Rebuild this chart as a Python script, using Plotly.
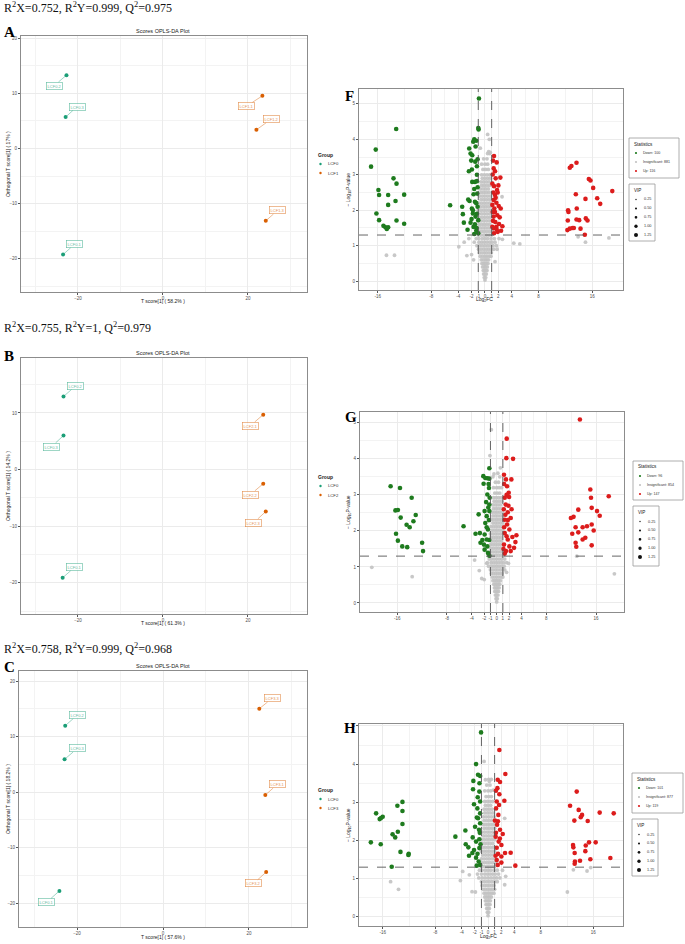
import plotly.graph_objects as go

W, H = 685, 944

# ===================== DATA =====================
# OPLS-DA scores: t[1] (x) and orthogonal t[1] (y)
A_samples = ["LCF0.1", "LCF0.2", "LCF0.3", "LCF1.1", "LCF1.2", "LCF1.3"]
A_t = [-23.5, -22.7, -22.9, 23.4, 22.0, 24.2]
A_to = [-19.2, 13.3, 5.7, 9.55, 3.4, -13.1]

B_samples = ["LCF0.1", "LCF0.2", "LCF0.3", "LCF2.1", "LCF2.2", "LCF2.3"]
B_t = [-23.6, -23.4, -23.4, 23.6, 23.6, 24.2]
B_to = [-19.1, 12.9, 6.0, 9.7, -2.5, -7.4]

C_samples = ["LCF0.1", "LCF0.2", "LCF0.3", "LCF3.1", "LCF3.2", "LCF3.3"]
C_t = [-24.1, -22.75, -22.9, 23.8, 24.0, 22.4]
C_to = [-17.8, 11.95, 5.9, -0.54, -14.4, 15.0]

A_groups = ["LCF0", "LCF1"]
B_groups = ["LCF0", "LCF2"]
C_groups = ["LCF0", "LCF3"]

A_stats = ["R<sup>2</sup>X=0.752, R<sup>2</sup>Y=0.999, Q<sup>2</sup>=0.975"]
B_stats = ["R<sup>2</sup>X=0.755, R<sup>2</sup>Y=1, Q<sup>2</sup>=0.979"]
C_stats = ["R<sup>2</sup>X=0.758, R<sup>2</sup>Y=0.999, Q<sup>2</sup>=0.968"]
A_var = ["58.2%", "17%"]
B_var = ["61.3%", "14.2%"]
C_var = ["57.6%", "18.2%"]

# Volcano: (log2FC, -log10 P)
F_down = [(-13.25, 4.29), (-16.3, 3.71), (-17.0, 3.23), (-13.65, 2.90), (-13.2, 2.75), (-15.9, 2.57),
          (-15.8, 2.43), (-14.45, 2.43), (-12.06, 2.44), (-13.35, 2.26), (-14.45, 2.15), (-16.2, 1.91),
          (-15.8, 1.72), (-13.2, 1.71), (-12.06, 1.62), (-15.15, 1.56), (-14.85, 1.52), (-14.65, 1.47),
          (-14.45, 1.52),
          (-0.9, 5.15), (-0.95, 4.28), (-1.0, 4.32), (-1.75, 3.93), (-1.3, 3.96), (-2.35, 3.74),
          (-2.15, 3.60), (-2.05, 3.40), (-1.45, 3.37), (-1.1, 3.44), (-1.95, 3.15), (-1.2, 3.24),
          (-1.9, 2.80), (-1.5, 2.80), (-1.2, 2.82), (-1.7, 2.45), (-1.15, 2.47), (-2.3, 2.26),
          (-1.5, 2.24), (-5.2, 2.14), (-3.4, 2.10), (-1.95, 2.05), (-1.1, 2.10), (-3.3, 1.89),
          (-1.8, 1.91), (-1.4, 1.82), (-3.15, 1.65), (-2.15, 1.65), (-1.0, 1.72), (-1.7, 1.53),
          (-1.3, 1.42), (-1.6, 1.33), (-1.0, 1.35), (-1.2, 3.0), (-1.6, 2.6), (-1.3, 2.2), (-1.8, 2.0),
          (-1.2, 1.9), (-2.0, 1.75), (-1.5, 1.6), (-2.5, 2.3), (-1.1, 2.65), (-1.9, 3.55), (-1.4, 3.8),
          (-2.6, 1.45), (-1.25, 1.5), (-2.4, 3.1), (-1.6, 4.0)]
F_up = [(1.35, 3.53), (1.75, 3.35), (1.3, 3.18), (1.15, 3.01), (1.6, 2.90), (2.3, 2.92), (1.35, 2.68),
        (1.8, 2.57), (1.5, 2.43), (1.3, 2.29), (1.7, 2.21), (2.05, 2.12), (2.35, 2.05), (1.4, 2.05),
        (1.85, 1.86), (1.3, 1.82), (1.55, 1.67), (2.1, 1.61), (2.6, 1.55), (1.7, 1.53), (1.3, 1.49),
        (1.9, 1.39), (1.35, 1.35), (1.1, 1.53), (1.2, 3.4), (1.5, 3.1), (1.1, 2.75), (2.0, 2.7),
        (1.25, 2.5), (1.6, 2.35), (1.1, 2.15), (1.5, 1.95), (2.2, 1.8), (1.2, 1.7), (1.75, 1.45),
        (2.4, 1.42), (1.15, 1.95), (1.9, 2.5),
        (12.66, 3.20), (12.9, 3.25), (13.66, 3.34), (15.5, 2.88), (15.75, 2.84), (16.15, 2.63),
        (19.0, 2.54), (13.56, 2.45), (16.75, 2.34), (15.0, 2.32), (17.2, 2.18), (12.4, 2.0),
        (12.46, 1.95), (13.7, 2.05), (12.36, 1.71), (13.66, 1.74), (14.06, 1.72), (15.05, 1.77),
        (15.3, 1.71), (12.3, 1.44), (12.66, 1.48), (13.06, 1.50), (13.26, 1.50), (14.26, 1.48),
        (14.9, 1.31)]
F_ns_extra = [(-14.7, 0.73), (-13.5, 0.73), (13.9, 1.25), (15.0, 1.1), (18.5, 1.22), (-3.9, 0.97),
              (-3.1, 1.1), (-2.7, 0.72), (-2.0, 0.75), (4.3, 1.07), (5.2, 1.05), (-2.4, 1.2),
              (2.6, 1.18), (1.8, 0.9), (-1.7, 0.6), (1.5, 0.55), (2.55, 2.38), (0.65, 4.0),
              (0.4, 4.14), (0.55, 3.65), (0.8, 3.63)]
F_ns_rows = [(0.03, [0.0]), (0.1, [-0.1, 0.1]), (0.2, [-0.2, 0.0, 0.2]), (0.3, [-0.25, -0.05, 0.15, 0.3]),
             (0.4, [-0.35, -0.1, 0.1, 0.35]), (0.5, [-0.45, -0.2, 0.0, 0.2, 0.45]),
             (0.6, [-0.55, -0.25, 0.05, 0.3, 0.55]), (0.7, [-0.7, -0.35, 0.0, 0.3, 0.65, 0.9]),
             (0.8, [-0.8, -0.45, -0.1, 0.25, 0.6, 0.95]), (0.9, [-0.95, -0.6, -0.2, 0.2, 0.55, 0.9, 1.3]),
             (1.0, [-1.2, -0.8, -0.4, 0.0, 0.4, 0.8, 1.2, 1.7]),
             (1.1, [-1.6, -0.9, -0.5, -0.1, 0.3, 0.7, 1.05, 1.5]),
             (1.2, [-1.3, -0.9, -0.4, 0.0, 0.4, 0.9, 1.4, 2.1]), (1.3, [-1.0, -0.6, -0.2, 0.2, 0.6, 1.0]),
             (1.4, [-0.9, -0.5, -0.1, 0.3, 0.7, 1.1]), (1.5, [-1.1, -0.7, -0.3, 0.1, 0.5, 0.9]),
             (1.6, [-0.9, -0.5, -0.1, 0.3, 0.7]), (1.7, [-1.0, -0.6, -0.2, 0.2, 0.6, 1.0]),
             (1.8, [-0.8, -0.4, 0.0, 0.4, 0.8]), (1.9, [-0.9, -0.5, -0.1, 0.3, 0.7]),
             (2.0, [-1.0, -0.6, -0.2, 0.2, 0.6, 1.0]), (2.1, [-0.7, -0.3, 0.1, 0.5, 0.9]),
             (2.2, [-0.9, -0.5, -0.1, 0.3, 0.7]), (2.3, [-0.6, -0.2, 0.2, 0.6, 1.0]),
             (2.4, [-0.8, -0.4, 0.0, 0.4, 0.8]), (2.5, [-0.6, -0.2, 0.2, 0.6, 1.1]),
             (2.6, [-0.7, -0.3, 0.1, 0.5]), (2.7, [-0.5, -0.1, 0.3, 0.7]), (2.8, [-0.6, -0.2, 0.2, 0.6]),
             (2.9, [-0.4, 0.0, 0.4, 0.8]), (3.0, [-0.5, -0.1, 0.3, 0.7]), (3.15, [-0.3, 0.1, 0.5]),
             (3.3, [-0.5, 0.0, 0.4]), (3.45, [-0.2, 0.3]), (3.6, [0.4, 0.7]), (3.75, [-0.7])]

G_down = [(-17.07, 3.24), (-15.56, 3.19), (-13.68, 2.92), (-16.3, 2.57), (-15.9, 2.58), (-15.45, 2.37),
          (-13.03, 2.44), (-13.4, 2.27), (-14.5, 2.17), (-14.0, 2.10), (-16.2, 1.92), (-15.9, 1.73),
          (-15.2, 1.57), (-14.4, 1.55), (-12.0, 1.67), (-11.85, 1.44),
          (-1.18, 3.74), (-2.15, 3.52), (-1.83, 3.47), (-1.5, 3.46), (-1.18, 3.45), (-2.1, 3.31),
          (-1.24, 3.19), (-1.5, 3.01), (-1.13, 2.92), (-1.94, 2.55), (-2.9, 2.46), (-1.6, 2.41),
          (-1.18, 2.55), (-5.33, 2.13), (-1.83, 2.22), (-1.4, 2.04), (-3.4, 1.92), (-2.7, 1.94),
          (-1.94, 1.90), (-1.6, 1.76), (-2.6, 1.67), (-2.05, 1.62), (-1.5, 1.57), (-1.94, 1.48),
          (-1.4, 1.39), (-1.18, 1.31), (-1.18, 2.73), (-1.3, 3.3), (-1.7, 2.8), (-1.25, 2.3),
          (-1.6, 2.1), (-1.2, 1.75), (-2.3, 1.75), (-1.35, 2.65)]
G_up = [(1.62, 4.56), (1.56, 4.02), (2.64, 4.0), (1.18, 3.56), (1.5, 3.43), (2.37, 3.43), (1.67, 3.24),
        (1.94, 3.06), (1.3, 2.92), (2.0, 2.94), (1.45, 2.73), (1.78, 2.52), (2.26, 2.36), (1.3, 2.31),
        (1.67, 2.18), (2.05, 2.04), (3.18, 1.88), (1.3, 1.94), (2.53, 1.83), (1.78, 1.76), (3.02, 1.69),
        (1.18, 1.62), (2.05, 1.57), (2.8, 1.53), (1.5, 1.44), (2.26, 1.44), (1.3, 1.37), (1.2, 3.3),
        (1.6, 3.0), (1.15, 2.6), (1.9, 2.7), (1.4, 2.45), (1.2, 2.1), (1.6, 1.85), (1.1, 1.5),
        (2.4, 2.6), (1.8, 2.3),
        (13.4, 5.09), (15.08, 3.15), (18.04, 2.96), (15.19, 2.92), (13.14, 2.59), (15.3, 2.64),
        (16.16, 2.55), (16.59, 2.42), (11.95, 2.36), (12.38, 2.39), (12.71, 2.10), (13.84, 2.10),
        (14.54, 2.13), (15.3, 2.18), (15.62, 2.01), (12.17, 1.92), (13.14, 1.96), (14.27, 1.81),
        (13.84, 1.76), (15.3, 1.60), (12.71, 1.67), (12.82, 1.56)]
G_ns_extra = [(-20.1, 0.99), (-13.6, 0.73), (12.9, 1.30), (18.95, 0.81), (-0.86, 4.81), (-1.08, 4.09),
              (-0.43, 3.58), (0.2, 3.6), (-3.55, 1.19), (-2.8, 0.9), (-2.4, 0.68), (-2.0, 0.65),
              (1.6, 0.85), (2.3, 2.35), (1.9, 1.1), (-1.6, 1.1), (0.6, 3.75)]
G_ns_rows = [(0.03, [0.0]), (0.12, [-0.1, 0.1]), (0.22, [-0.2, 0.0, 0.2]), (0.32, [-0.3, -0.1, 0.1, 0.3]),
             (0.42, [-0.35, -0.1, 0.15, 0.4]), (0.52, [-0.45, -0.2, 0.05, 0.3, 0.5]),
             (0.62, [-0.6, -0.3, 0.0, 0.3, 0.6]), (0.72, [-0.7, -0.35, 0.0, 0.35, 0.7, 1.0]),
             (0.82, [-0.85, -0.5, -0.15, 0.2, 0.55, 0.9]), (0.92, [-1.0, -0.6, -0.2, 0.2, 0.6, 1.0, 1.3]),
             (1.02, [-1.3, -0.8, -0.4, 0.0, 0.4, 0.8, 1.2]),
             (1.12, [-1.5, -0.9, -0.5, -0.1, 0.3, 0.7, 1.1, 1.6]),
             (1.22, [-1.2, -0.8, -0.4, 0.0, 0.4, 0.8, 1.3]), (1.32, [-0.9, -0.5, -0.1, 0.3, 0.7, 1.0]),
             (1.42, [-1.0, -0.6, -0.2, 0.2, 0.6, 1.0]), (1.52, [-0.9, -0.5, -0.1, 0.3, 0.7]),
             (1.62, [-1.0, -0.6, -0.2, 0.2, 0.6, 1.0]), (1.72, [-0.8, -0.4, 0.0, 0.4, 0.8]),
             (1.82, [-0.9, -0.5, -0.1, 0.3, 0.7]), (1.92, [-1.0, -0.6, -0.2, 0.2, 0.6, 1.0]),
             (2.02, [-0.7, -0.3, 0.1, 0.5, 0.9]), (2.12, [-0.9, -0.5, -0.1, 0.3, 0.7]),
             (2.22, [-0.6, -0.2, 0.2, 0.6, 1.0]), (2.32, [-0.8, -0.4, 0.0, 0.4, 0.8]),
             (2.42, [-0.6, -0.2, 0.2, 0.6, 1.0]), (2.52, [-0.7, -0.3, 0.1, 0.5, 0.9]),
             (2.62, [-0.5, -0.1, 0.3, 0.7]), (2.72, [-0.6, -0.2, 0.2, 0.6]), (2.82, [-0.4, 0.0, 0.4, 0.8]),
             (2.92, [-0.5, -0.1, 0.3, 0.7]), (3.05, [-0.3, 0.1, 0.5]), (3.2, [-0.5, 0.0, 0.4, 0.8]),
             (3.35, [-0.2, 0.3]), (3.5, [-0.6, 0.5])]

H_down = [(-13.77, 2.91), (-13.0, 3.01), (-13.0, 2.77), (-17.0, 2.71), (-16.46, 2.56), (-16.0, 2.62),
          (-16.25, 2.59), (-13.0, 2.43), (-13.7, 2.23), (-14.5, 2.16), (-14.1, 2.08), (-17.8, 1.95),
          (-16.3, 1.90), (-13.3, 1.70), (-12.05, 1.65), (-12.1, 1.62), (-14.63, 1.31),
          (-1.06, 4.83), (-1.82, 4.0), (-1.52, 3.72), (-1.2, 3.69), (-2.23, 3.56), (-2.28, 3.34),
          (-1.32, 3.28), (-1.57, 3.13), (-1.2, 3.02), (-2.13, 2.95), (-1.62, 2.84), (-1.2, 2.71),
          (-1.52, 2.58), (-1.2, 2.45), (-1.97, 2.36), (-3.44, 2.26), (-1.37, 2.28), (-4.96, 2.10),
          (-2.33, 2.08), (-1.32, 2.03), (-1.82, 1.97), (-3.39, 1.90), (-2.99, 1.82), (-2.13, 1.75),
          (-1.32, 1.80), (-2.38, 1.67), (-2.89, 1.60), (-1.82, 1.55), (-1.42, 1.45), (-1.72, 1.34),
          (-1.2, 1.36), (-1.3, 3.5), (-1.7, 2.6), (-1.25, 2.2), (-1.6, 1.65), (-1.15, 1.9)]
H_up = [(1.72, 4.37), (2.63, 3.74), (1.47, 3.59), (1.82, 3.53), (1.42, 3.37), (1.72, 3.21), (2.48, 3.04),
        (1.32, 3.02), (1.67, 2.93), (1.22, 2.84), (1.57, 2.67), (1.05, 2.52), (1.37, 2.41), (1.82, 2.28),
        (2.23, 2.17), (1.16, 2.10), (1.62, 1.97), (2.03, 1.88), (1.32, 1.81), (3.44, 1.68), (2.58, 1.67),
        (1.52, 1.65), (2.03, 1.58), (4.15, 1.34), (1.32, 1.49), (2.03, 1.42), (1.47, 1.36), (1.2, 3.3),
        (1.5, 2.5), (1.2, 2.2), (1.8, 2.05), (1.15, 1.6),
        (13.47, 3.28), (12.46, 2.91), (13.77, 2.80), (14.28, 2.67), (14.08, 2.61), (13.11, 2.52),
        (15.14, 2.51), (16.96, 2.73), (19.09, 2.71), (12.91, 1.88), (12.96, 1.82), (13.16, 1.67),
        (14.84, 1.87), (15.34, 1.95), (16.35, 1.95), (14.78, 1.72), (15.54, 1.51), (18.58, 1.54),
        (13.97, 1.47), (13.2, 1.45), (13.16, 1.39)]
H_ns_extra = [(-14.8, 0.92), (-13.6, 0.72), (12.96, 1.23), (15.04, 1.20), (15.6, 1.29), (12.05, 0.65),
              (-3.85, 1.19), (-2.84, 1.10), (-4.2, 0.95), (-2.43, 0.66), (-1.92, 0.65), (2.68, 1.06),
              (2.53, 0.84), (-0.6, 4.07), (-0.4, 3.59), (0.8, 3.32), (2.53, 2.58), (0.2, 3.55)]
H_ns_rows = [(0.03, [0.0]), (0.12, [-0.1, 0.1]), (0.22, [-0.2, 0.0, 0.2]), (0.32, [-0.3, -0.1, 0.1, 0.3]),
             (0.42, [-0.4, -0.15, 0.1, 0.35]), (0.52, [-0.5, -0.25, 0.0, 0.25, 0.5]),
             (0.62, [-0.6, -0.3, 0.0, 0.3, 0.6, 0.9]), (0.72, [-0.75, -0.4, -0.05, 0.3, 0.65, 1.0]),
             (0.82, [-0.9, -0.5, -0.15, 0.2, 0.55, 0.9]), (0.92, [-1.0, -0.6, -0.2, 0.2, 0.6, 1.0, 1.4]),
             (1.02, [-1.4, -0.9, -0.45, 0.0, 0.45, 0.9, 1.3, 1.8]),
             (1.12, [-1.6, -1.0, -0.5, -0.1, 0.3, 0.7, 1.1, 1.6]),
             (1.22, [-1.3, -0.9, -0.4, 0.0, 0.4, 0.9, 1.4, 2.2]), (1.32, [-1.0, -0.6, -0.2, 0.2, 0.6, 1.0]),
             (1.42, [-0.9, -0.5, -0.1, 0.3, 0.7, 1.1]), (1.52, [-1.0, -0.6, -0.2, 0.2, 0.6, 1.0]),
             (1.62, [-0.8, -0.4, 0.0, 0.4, 0.8]), (1.72, [-1.0, -0.6, -0.2, 0.2, 0.6, 1.0]),
             (1.82, [-0.8, -0.4, 0.0, 0.4, 0.8]), (1.92, [-0.9, -0.5, -0.1, 0.3, 0.7]),
             (2.02, [-1.0, -0.6, -0.2, 0.2, 0.6, 1.0]), (2.12, [-0.7, -0.3, 0.1, 0.5, 0.9]),
             (2.22, [-0.9, -0.5, -0.1, 0.3, 0.7]), (2.32, [-0.6, -0.2, 0.2, 0.6, 1.0]),
             (2.42, [-0.8, -0.4, 0.0, 0.4, 0.8]), (2.52, [-0.6, -0.2, 0.2, 0.6]),
             (2.62, [-0.7, -0.3, 0.1, 0.5, 0.9]), (2.72, [-0.5, -0.1, 0.3, 0.7]),
             (2.82, [-0.6, -0.2, 0.2, 0.6]), (2.92, [-0.4, 0.0, 0.4]), (3.02, [-0.5, -0.1, 0.3, 0.7]),
             (3.15, [-0.3, 0.1, 0.5]), (3.3, [-0.5, 0.0, 0.4]), (3.45, [-0.2, 0.3]), (3.6, [0.1, 0.5])]

F_counts = [100, 881, 116]
G_counts = [96, 854, 147]
H_counts = [101, 877, 119]
VIP_levels = [0.25, 0.50, 0.75, 1.00, 1.25]
LOG2FC_TICKS = [-16, -8, -4, -2, -1, 0, 1, 2, 4, 8, 16]
FC_CUT = 1
P_CUT = 1.301

# ===================== STYLE / LAYOUT =====================
TEAL = "#1b9e77"
ORANGE = "#d95f02"
GREEN = "#1e7b1e"
RED = "#dc1c1c"
GRAY = "#c2c2c2"
TXT = "#4d4d4d"
SANS = "Liberation Sans, Arial, sans-serif"
SERIF = "Liberation Serif, Times New Roman, serif"

# label box centers for the score plots (repel positions)
A_lab = [(-20.7, -17.3), (-25.6, 11.4), (-20.2, 7.6), (19.7, 7.7), (25.5, 5.35), (27.0, -11.2)]
B_lab = [(-20.7, -17.2), (-20.5, 14.8), (-26.2, 4.06), (20.6, 7.76), (20.6, -4.4), (21.4, -9.35)]
C_lab = [(-27.0, -19.8), (-19.9, 13.9), (-19.9, 7.87), (26.6, 1.39), (21.1, -16.45), (25.4, 16.9)]


def dx(a, b):
    return [a / W, b / W]


def dy(top, bottom):
    return [1 - bottom / H, 1 - top / H]


def px(xp, yp):
    return xp / W, 1 - yp / H


fig = go.Figure()
annotations = []
shapes = []


def text(xp, yp, s, size, color="#222", font=SANS, xanchor="left", angle=0, bold=False):
    x, y = px(xp, yp)
    if bold:
        s = "<b>" + s + "</b>"
    annotations.append(dict(x=x, y=y, xref="paper", yref="paper", text=s, showarrow=False,
                            xanchor=xanchor, yanchor="middle", textangle=angle,
                            font=dict(size=size, color=color, family=font)))


def dot(xp, yp, d, color):
    x0, y0 = px(xp - d / 2, yp + d / 2)
    x1, y1 = px(xp + d / 2, yp - d / 2)
    shapes.append(dict(type="circle", xref="paper", yref="paper", x0=x0, y0=y0, x1=x1, y1=y1,
                       fillcolor=color, line=dict(width=0)))


def box(x0p, y0p, x1p, y1p):
    x0, y0 = px(x0p, y1p)
    x1, y1 = px(x1p, y0p)
    shapes.append(dict(type="rect", xref="paper", yref="paper", x0=x0, y0=y0, x1=x1, y1=y1,
                       fillcolor="white", line=dict(color="#9a9a9a", width=0.8)))


def axis_common():
    return dict(showline=True, mirror=True, linecolor="#8c8c8c", linewidth=1, zeroline=False,
                ticks="outside", ticklen=2, tickwidth=0.5, tickcolor="#555", tickangle=0,
                tickfont=dict(size=4.5, color=TXT, family=SANS),
                showgrid=True, gridcolor="#ebebeb", gridwidth=0.6, automargin=False)


axes = {}


def score_panel(i, samples, t, to, groups, labs, xdom, ydom, xr, yr, stats, var, top_px, letter,
                letter_px, group_px, xt_off=9):
    xa, ya = ("x" if i == 1 else "x%d" % i), ("y" if i == 1 else "y%d" % i)
    for g, col in zip(groups, [TEAL, ORANGE]):
        xs = [a for a, s in zip(t, samples) if s.startswith(g)]
        ys = [b for b, s in zip(to, samples) if s.startswith(g)]
        fig.add_trace(go.Scatter(x=xs, y=ys, mode="markers", xaxis=xa, yaxis=ya, showlegend=False,
                                 marker=dict(size=4, color=col)))
    for s, a, b, (lx, ly) in zip(samples, t, to, labs):
        col = TEAL if s.startswith(groups[0]) else ORANGE
        annotations.append(dict(x=a, y=b, xref=xa, yref=ya, ax=lx, ay=ly, axref=xa, ayref=ya,
                                text=s, showarrow=True, arrowhead=0, arrowwidth=0.6, arrowcolor=col,
                                standoff=1.5, font=dict(size=4, color=col, family=SANS),
                                bgcolor="white", bordercolor=col, borderwidth=0.6, borderpad=1,
                                opacity=0.7))
    ax = axis_common()
    ax.update(domain=xdom, range=xr, tickmode="linear", tick0=0, dtick=20,
              minor=dict(tick0=10, dtick=20, showgrid=True, gridcolor="#f3f3f3", gridwidth=0.4),
              anchor=ya)
    ay_ = axis_common()
    ay_.update(domain=ydom, range=yr, tickmode="linear", tick0=0, dtick=10,
               minor=dict(tick0=5, dtick=10, showgrid=True, gridcolor="#f3f3f3", gridwidth=0.4),
               anchor=xa)
    axes["xaxis" if i == 1 else "xaxis%d" % i] = ax
    axes["yaxis" if i == 1 else "yaxis%d" % i] = ay_
    text(2, top_px, stats[0], 12, color="#111", font=SERIF)
    text(2, letter_px, letter, 15, color="#000", font=SERIF, bold=True)
    ytop = (1 - ydom[1]) * H
    ybot = (1 - ydom[0]) * H
    text(163, ytop - 5, "Scores OPLS-DA Plot", 5.5, color="#222", xanchor="center")
    text(163, ybot + xt_off, "T score[1] ( %s )" % var[0], 5, color="#222", xanchor="center")
    text(8, (ytop + ybot) / 2, "Orthogonal T score[1] ( %s )" % var[1], 5, color="#222",
         xanchor="center", angle=-90)
    gx, gy = group_px
    text(gx, gy, "Group", 5, color="#222", bold=True)
    for k, (g, col) in enumerate(zip(groups, [TEAL, ORANGE])):
        dot(gx + 4.5, gy + 9 + 9 * k, 2.4, col)
        text(gx + 10, gy + 9 + 9 * k, g, 4.2, color="#333")


def rows_to_xy(rows, extra):
    xs, ys = [], []
    for yv, xv in rows:
        for v in xv:
            xs.append(v)
            ys.append(yv)
    for a, b in extra:
        xs.append(a)
        ys.append(b)
    return xs, ys


def volcano(i, down, up, ns_rows, ns_extra, counts, xdom, ydom, xr, yr, letter, letter_px, stats_box,
            vip_box, show_xtitle=True, xt_off=9):
    xa, ya = "x%d" % i, "y%d" % i
    gx, gy = rows_to_xy(ns_rows, ns_extra)
    fig.add_trace(go.Scatter(x=gx, y=gy, mode="markers", xaxis=xa, yaxis=ya, showlegend=False,
                             marker=dict(size=3.8, color=GRAY, opacity=0.9)))
    fig.add_trace(go.Scatter(x=[p[0] for p in down], y=[p[1] for p in down], mode="markers", xaxis=xa,
                             yaxis=ya, showlegend=False, marker=dict(size=4.6, color=GREEN)))
    fig.add_trace(go.Scatter(x=[p[0] for p in up], y=[p[1] for p in up], mode="markers", xaxis=xa,
                             yaxis=ya, showlegend=False, marker=dict(size=4.6, color=RED)))
    ax = axis_common()
    ax.update(domain=xdom, range=xr, tickmode="array", tickvals=LOG2FC_TICKS,
              ticktext=[str(v) for v in LOG2FC_TICKS],
              minor=dict(tickmode="array", tickvals=[-12, -6, 6, 12], showgrid=True,
                         gridcolor="#f3f3f3", gridwidth=0.4),
              anchor=ya)
    ay_ = axis_common()
    ay_.update(domain=ydom, range=yr, tickmode="linear", tick0=0, dtick=1,
               minor=dict(tick0=0.5, dtick=1, showgrid=True, gridcolor="#f3f3f3", gridwidth=0.4),
               anchor=xa)
    axes["xaxis%d" % i] = ax
    axes["yaxis%d" % i] = ay_
    dash = dict(color="#555555", width=0.9, dash="dash")
    for v in (-FC_CUT, FC_CUT):
        shapes.append(dict(type="line", xref=xa, yref=ya + " domain", x0=v, x1=v, y0=0, y1=1, line=dash))
    shapes.append(dict(type="line", xref=xa + " domain", yref=ya, x0=0, x1=1, y0=P_CUT, y1=P_CUT,
                       line=dash))
    x0p, x1p = xdom[0] * W, xdom[1] * W
    ytop = (1 - ydom[1]) * H
    ybot = (1 - ydom[0]) * H
    zero_px = x0p + (0 - xr[0]) / (xr[1] - xr[0]) * (x1p - x0p)
    text(letter_px[0], letter_px[1], letter, 15, color="#000", font=SERIF, bold=True)
    if show_xtitle:
        text(zero_px, ybot + xt_off, "Log<sub>2</sub>FC", 5, color="#222", xanchor="center")
    text(348, (ytop + ybot) / 2, "\u2212 Log<sub>10</sub>P-value", 5, color="#222", xanchor="center",
         angle=-90)
    bx0, by0, bx1, by1 = stats_box
    box(bx0, by0, bx1, by1)
    text(bx0 + 3, by0 + 6, "Statistics", 4.6, color="#222")
    labels = ["Down: %d" % counts[0], "Insignificant: %d" % counts[1], "Up: %d" % counts[2]]
    for k, (lab, col) in enumerate(zip(labels, [GREEN, GRAY, RED])):
        yy = by0 + 15 + 9 * k
        dot(bx0 + 7, yy, 2.2, col)
        text(bx0 + 12, yy, lab, 3.6, color="#333")
    vx0, vy0, vx1, vy1 = vip_box
    box(vx0, vy0, vx1, vy1)
    text(vx0 + 3, vy0 + 6, "VIP", 4.6, color="#222")
    for k, v in enumerate(VIP_levels):
        yy = vy0 + 15.5 + 8.9 * k
        dot(vx0 + 7, yy, 1.4 + 0.65 * k, "#111")
        text(vx0 + 12.5, yy, "%.2f" % v, 3.8, color="#333")


score_panel(1, A_samples, A_t, A_to, A_groups, A_lab, dx(21, 307), dy(36, 292), [-33.4, 33.9],
            [-26.0, 20.4], A_stats, A_var, 8, "A", 32, (316, 155))
score_panel(2, B_samples, B_t, B_to, B_groups, B_lab, dx(21, 307), dy(358, 614), [-33.4, 33.9],
            [-25.5, 19.7], B_stats, B_var, 328, "B", 356, (316, 477))
score_panel(3, C_samples, C_t, C_to, C_groups, C_lab, dx(19, 307), dy(671, 927), [-33.5, 33.5],
            [-24.3, 21.8], C_stats, C_var, 648, "C", 667, (316, 790), xt_off=9.5)

volcano(4, F_down, F_up, F_ns_rows, F_ns_extra, F_counts, dx(359, 623), dy(89, 290), [-18.8, 20.6],
        [-0.25, 5.42], "F", (343, 96), (629, 138, 679, 178), (629, 184, 655, 241), xt_off=9)
volcano(5, G_down, G_up, G_ns_rows, G_ns_extra, G_counts, dx(360, 624), dy(412, 612), [-22.0, 20.5],
        [-0.25, 5.3], "G", (343, 417), (633, 461, 683, 500), (633, 506, 659, 566), show_xtitle=False)
volcano(6, H_down, H_up, H_ns_rows, H_ns_extra, H_counts, dx(359, 623), dy(724, 926), [-19.6, 20.5],
        [-0.24, 5.05], "H", (342, 728), (632, 773, 683, 813), (632, 819, 658, 876), xt_off=10)

fig.update_layout(width=W, height=H, margin=dict(l=0, r=0, t=0, b=0), paper_bgcolor="white",
                  plot_bgcolor="white", showlegend=False, annotations=annotations, shapes=shapes,
                  **axes)
# remove the browser's default 8px body margin so the figure starts at the window's corner
fig.write_html("out.html", config={"displayModeBar": False},
               post_script="document.body.style.margin='0';")
